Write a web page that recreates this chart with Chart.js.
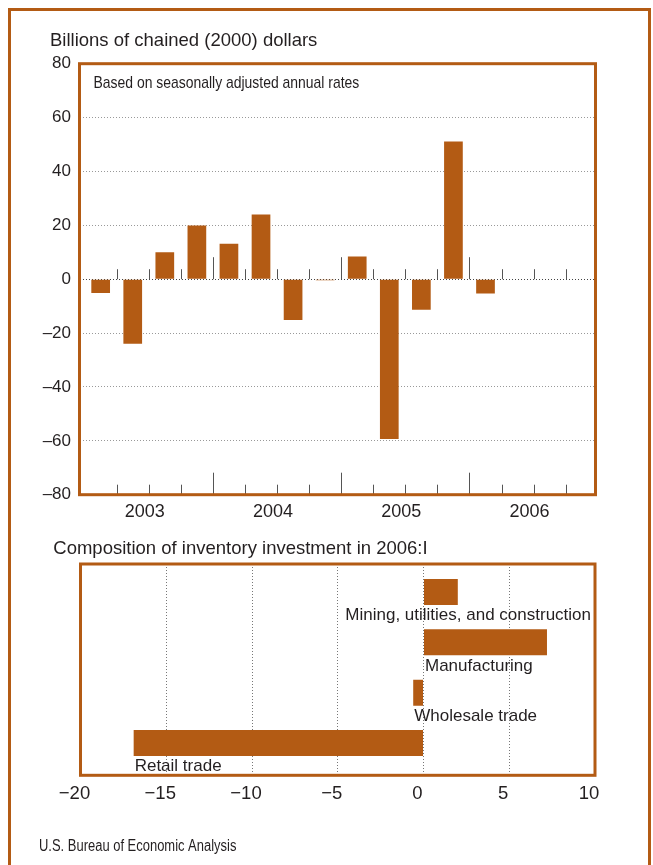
<!DOCTYPE html>
<html lang="en">
<head>
<meta charset="UTF-8" />
<title>Change in real private inventories</title>
<script src="https://cdn.jsdelivr.net/npm/chart.js"></script>
<style>
  html, body { margin: 0; padding: 0; background: #fff; overflow: hidden; }
  body { width: 653px; height: 865px; position: relative; }
  #frame { position: absolute; left: 8px; top: 8px; width: 643px; height: 900px; border: 3px solid #b35b14; box-sizing: border-box; }
  #top { position: absolute; left: 0; top: 0; }
  #bottom { position: absolute; left: 0; top: 530px; }
</style>
</head>
<body>
<div id="frame"></div>
<canvas id="top" width="653" height="530"></canvas>
<canvas id="bottom" width="653" height="335"></canvas>
<script>
  // quarterly change in private inventories, billions of chained (2000) dollars
  const quarters = ['2003:I', '2003:II', '2003:III', '2003:IV', '2004:I', '2004:II', '2004:III', '2004:IV',
                    '2005:I', '2005:II', '2005:III', '2005:IV', '2006:I', '2006:II', '2006:III', '2006:IV'];
  const change = [-5.1, -24.0, 10.0, 19.9, 13.2, 24.0, -15.1, -0.4,
                  8.4, -59.3, -11.3, 51.1, -5.3, null, null, null];
  const years = ['2003', '2004', '2005', '2006'];

  // composition in 2006:I
  const industries = ['Mining, utilities, and construction', 'Manufacturing', 'Wholesale trade', 'Retail trade'];
  const contribution = [2.0, 7.2, -0.6, -16.9];

  const ink = '#231f20';
  const rust = '#b35b14';
  const sans = "'Liberation Sans', Arial, Helvetica, sans-serif";

  // orange frame round the plot area
  const boxFrame = {
    id: 'boxFrame',
    afterDraw(chart) {
      const { ctx, chartArea: a } = chart;
      ctx.save();
      ctx.strokeStyle = rust;
      ctx.lineWidth = 3;
      ctx.strokeRect(a.left, a.top, a.right - a.left, a.bottom - a.top);
      ctx.restore();
    }
  };

  // free text (titles, notes, source); squeeze < 1 gives a condensed face
  const notes = {
    id: 'notes',
    afterDraw(chart, args, opts) {
      const ctx = chart.ctx;
      (opts.items || []).forEach(n => {
        ctx.save();
        ctx.fillStyle = ink;
        ctx.textBaseline = 'alphabetic';
        ctx.font = n.font;
        ctx.translate(n.x, n.y);
        ctx.scale(n.squeeze || 1, 1);
        ctx.fillText(n.text, 0, 0);
        ctx.restore();
      });
    }
  };

  // little quarter marks on the zero line and on the bottom edge
  const quarterTicks = {
    id: 'quarterTicks',
    afterDatasetsDraw(chart) {
      const { ctx, chartArea: a, scales: { x, y } } = chart;
      const zero = y.getPixelForValue(0);
      ctx.save();
      ctx.strokeStyle = '#555';
      ctx.lineWidth = 1;
      for (let k = 1; k < quarters.length; k++) {
        const px = Math.round(x.getPixelForValue(k)) + 0.5;
        const len = k % 4 === 0 ? 22 : 10;
        ctx.beginPath();
        ctx.moveTo(px, zero);
        ctx.lineTo(px, zero - len);
        ctx.moveTo(px, a.bottom);
        ctx.lineTo(px, a.bottom - len);
        ctx.stroke();
      }
      ctx.restore();
    }
  };

  // industry names under each bar
  const barLabels = {
    id: 'barLabels',
    afterDatasetsDraw(chart) {
      const { ctx, chartArea: a } = chart;
      const meta = chart.getDatasetMeta(0);
      ctx.save();
      ctx.font = '17px ' + sans;
      ctx.fillStyle = ink;
      ctx.textBaseline = 'top';
      meta.data.forEach((bar, i) => {
        const p = bar.getProps(['x', 'y', 'base', 'height'], true);
        const left = Math.min(p.x, p.base);
        const w = ctx.measureText(industries[i]).width;
        const tx = Math.min(left + 1, a.right - w - 4);
        ctx.fillText(industries[i], tx, p.y + p.height / 2 + 2);
      });
      ctx.restore();
    }
  };

  new Chart(document.getElementById('top'), {
    type: 'bar',
    data: {
      datasets: [{
        data: quarters.map((q, i) => ({ x: i + 0.5, y: change[i] })),
        backgroundColor: rust,
        barPercentage: 0.583,
        categoryPercentage: 1
      }]
    },
    options: {
      responsive: false,
      animation: false,
      layout: { padding: { top: 63.7, right: 57.5, left: 0, bottom: 0 } },
      plugins: {
        legend: { display: false },
        tooltip: { enabled: false },
        notes: {
          items: [
            { text: 'Billions of chained (2000) dollars', x: 50, y: 45.5, font: '18.5px ' + sans },
            { text: 'Based on seasonally adjusted annual rates', x: 93.5, y: 88.3, font: '17px ' + sans, squeeze: 0.82 }
          ]
        }
      },
      scales: {
        x: {
          type: 'linear',
          offset: false,
          min: -0.16,
          max: 15.93,
          grid: { display: false, drawTicks: false },
          border: { display: false },
          afterBuildTicks: s => { s.ticks = years.map((_, j) => ({ value: j * 4 + 2 })); },
          afterFit: s => { s.height = 35.3; s.paddingLeft = 0; s.paddingRight = 0; },
          ticks: {
            callback: (v, i) => years[i],
            autoSkip: false,
            maxRotation: 0,
            padding: 7,
            labelOffset: -4,
            color: ink,
            font: { family: sans, size: 18 }
          }
        },
        y: {
          min: -80,
          max: 80,
          afterFit: s => { s.width = 79.5; },
          ticks: {
            stepSize: 20,
            padding: 8.5,
            color: ink,
            font: { family: sans, size: 17 },
            callback: v => v < 0 ? '\u2013' + Math.abs(v) : String(v)
          },
          grid: {
            drawTicks: false,
            lineWidth: 1,
            color: c => Math.abs(c.tick.value) === 80 ? 'rgba(0,0,0,0)' : (c.tick.value === 0 ? '#444' : '#999')
          },
          border: { display: false, dash: [1, 2] }
        }
      }
    },
    plugins: [quarterTicks, boxFrame, notes]
  });

  new Chart(document.getElementById('bottom'), {
    type: 'bar',
    data: {
      datasets: [{
        data: industries.map((n, i) => ({ x: contribution[i], y: i })),
        backgroundColor: rust,
        barPercentage: 0.517,
        categoryPercentage: 1
      }]
    },
    options: {
      indexAxis: 'y',
      responsive: false,
      animation: false,
      layout: { padding: { top: 34, left: 80.5, right: 58, bottom: 0 } },
      plugins: {
        legend: { display: false },
        tooltip: { enabled: false },
        notes: {
          items: [
            { text: 'Composition of inventory investment in 2006:I', x: 53.3, y: 24, font: '18.5px ' + sans },
            { text: 'U.S. Bureau of Economic Analysis', x: 39, y: 321, font: '16px ' + sans, squeeze: 0.81 }
          ]
        }
      },
      scales: {
        x: {
          type: 'linear',
          min: -20,
          max: 10,
          afterFit: s => { s.height = 89.7; },
          ticks: {
            stepSize: 5,
            padding: 8,
            labelOffset: -6,
            color: ink,
            font: { family: sans, size: 18.5 },
            callback: v => v < 0 ? '\u2212' + Math.abs(v) : String(v)
          },
          grid: {
            drawTicks: false,
            lineWidth: 1,
            color: c => (c.tick.value === -20 || c.tick.value === 10) ? 'rgba(0,0,0,0)' : '#777'
          },
          border: { display: false, dash: [1, 2] }
        },
        y: {
          type: 'linear',
          offset: false,
          display: false,
          reverse: true,
          min: -0.556,
          max: 3.642,
          afterBuildTicks: s => { s.ticks = industries.map((_, i) => ({ value: i })); }
        }
      }
    },
    plugins: [barLabels, boxFrame, notes]
  });
</script>
</body>
</html>
